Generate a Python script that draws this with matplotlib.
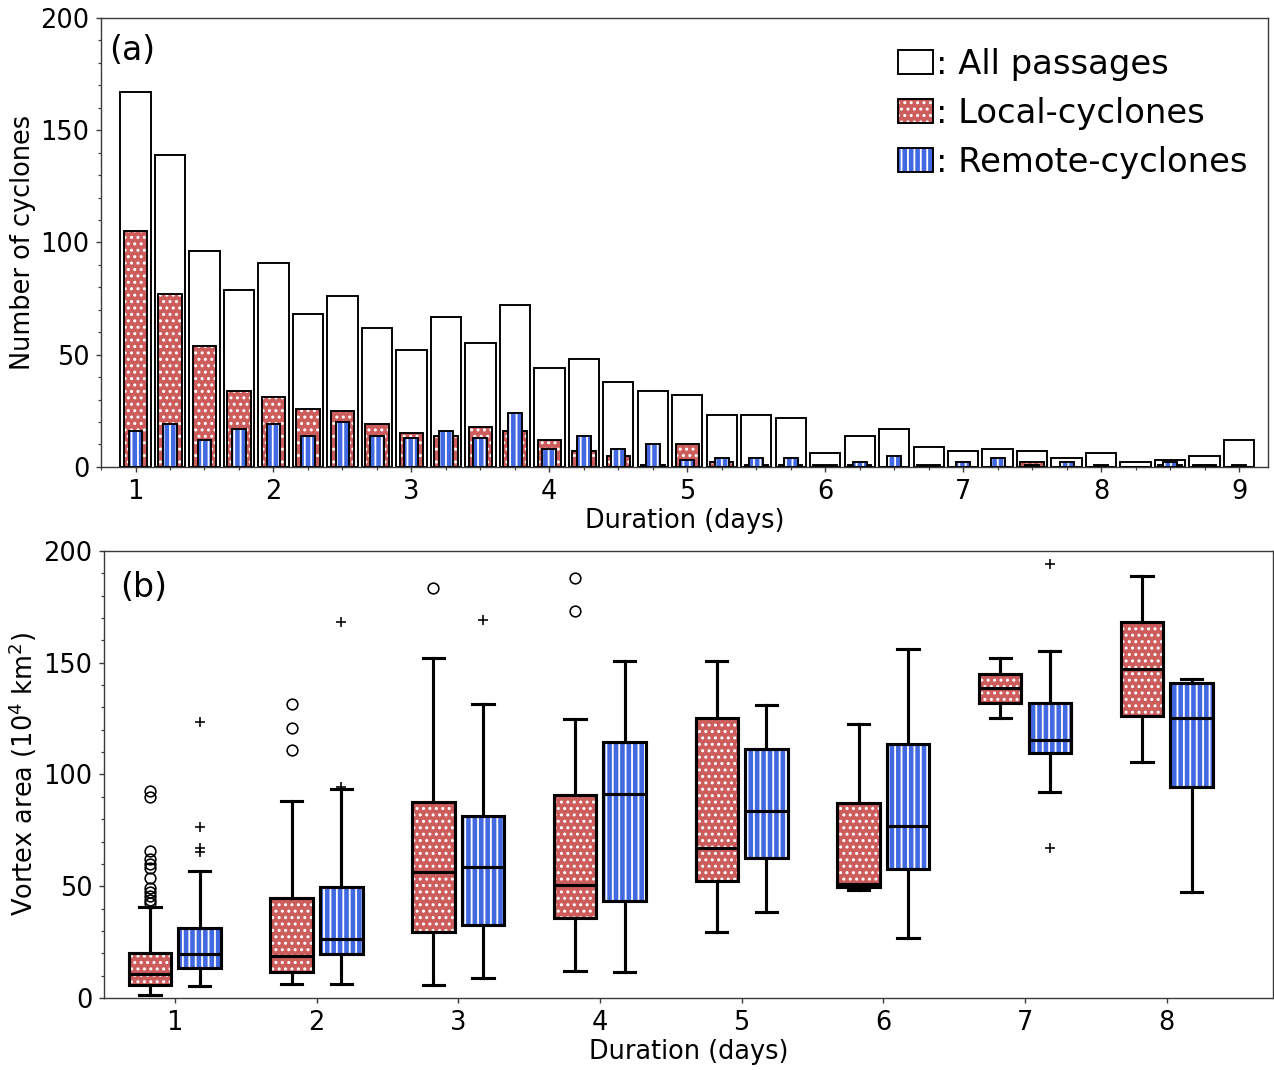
import numpy as np
import matplotlib
matplotlib.use("Agg")
import matplotlib.pyplot as plt
from matplotlib.patches import Patch, PathPatch
from matplotlib.legend_handler import HandlerTuple
from matplotlib.ticker import MultipleLocator

# ---------------- data: panel (a) ----------------
duration_days = [1.00, 1.25, 1.50, 1.75, 2.00, 2.25, 2.50, 2.75, 3.00, 3.25, 3.50,
                 3.75, 4.00, 4.25, 4.50, 4.75, 5.00, 5.25, 5.50, 5.75, 6.00, 6.25,
                 6.50, 6.75, 7.00, 7.25, 7.50, 7.75, 8.00, 8.25, 8.50, 8.75, 9.00]
all_passages = [167, 139, 96, 79, 91, 68, 76, 62, 52, 67, 55, 72, 44, 48, 38, 34, 32,
                23, 23, 22, 6, 14, 17, 9, 7, 8, 7, 4, 6, 2, 3, 5, 12]
local_cyclones = [105, 77, 54, 34, 31, 26, 25, 19, 15, 14, 18, 16, 12, 7, 5, 1, 10,
                  2, 1, 1, 1, 1, 0, 1, 0, 0, 2, 0, 0, 0, 1, 1, 0]
remote_cyclones = [16, 19, 12, 17, 19, 14, 20, 14, 13, 16, 13, 24, 8, 14, 8, 10, 3,
                   4, 4, 4, 0, 2, 5, 0, 2, 4, 1, 2, 1, 0, 2, 1, 1]

# ---------------- data: panel (b) box statistics ----------------
box_days = [1, 2, 3, 4, 5, 6, 7, 8]
local_whislo = [1.5, 6.4, 6.0, 12.1, 29.6, 48.5, 125.1, 105.4]
local_q1 = [5.7, 11.7, 29.6, 35.8, 52.4, 49.6, 131.8, 126.2]
local_med = [10.9, 18.7, 56.2, 50.5, 66.9, 51.2, 138.8, 147.2]
local_q3 = [20.2, 44.8, 87.5, 90.8, 125.1, 87.2, 145.1, 168.1]
local_whishi = [40.5, 88.1, 152.3, 124.8, 150.9, 122.6, 152.0, 188.8]
local_fliers = [[42.3, 43.8, 45.5, 47.5, 49.0, 53.9, 58.2, 60.0, 62.0, 65.7, 89.7, 92.7],
                [111.0, 120.9, 131.4],
                [183.3],
                [173.2, 187.8],
                [], [], [], []]

remote_whislo = [5.5, 6.4, 9.0, 11.7, 38.5, 26.9, 92.3, 47.5]
remote_q1 = [13.2, 19.7, 32.6, 43.4, 62.7, 57.5, 109.7, 94.2]
remote_med = [19.7, 26.6, 58.7, 91.2, 83.8, 76.9, 115.4, 125.1]
remote_q3 = [31.1, 49.7, 81.5, 114.6, 111.2, 113.6, 132.0, 140.8]
remote_whishi = [56.7, 93.5, 131.4, 150.8, 131.1, 156.0, 155.4, 142.9]
remote_fliers = [[65.4, 66.9, 76.6, 123.3],
                 [94.5, 168.2],
                 [169.3],
                 [], [], [],
                 [67.3, 194.2],
                 []]

RED = '#CD5C5C'
BLUE = '#4169E1'
DPI = 77

plt.rcParams['hatch.linewidth'] = 1.7
plt.rcParams['font.family'] = ['DejaVu Sans']

fig = plt.figure(figsize=(1274 / DPI, 1070 / DPI), dpi=DPI)
ax1 = fig.add_axes([0.0793, 0.5636, 0.916, 0.4196])
ax2 = fig.add_axes([0.0816, 0.0673, 0.9176, 0.4178])

SPINE = '#3a3a3a'
for ax in (ax1, ax2):
    for s in ax.spines.values():
        s.set_color(SPINE)
        s.set_linewidth(1.3)
    ax.tick_params(which='major', length=5, width=1.3, color=SPINE, pad=6,
                   labelsize=24)
    ax.tick_params(which='minor', length=3, width=1.1, color=SPINE)

# ---------------- panel (a) ----------------
x = np.array(duration_days)
EW = 1.8
ax1.bar(x, all_passages, width=0.22, facecolor='white', edgecolor='black',
        linewidth=EW, zorder=2)
ax1.bar(x, local_cyclones, width=0.17, facecolor=RED, edgecolor='white',
        linewidth=0, hatch='..', zorder=3)
ax1.bar(x, local_cyclones, width=0.17, fill=False, edgecolor='black',
        linewidth=EW, zorder=3.1)
ax1.bar(x, remote_cyclones, width=0.10, facecolor=BLUE, edgecolor='white',
        linewidth=0, hatch='||', zorder=4)
ax1.bar(x, remote_cyclones, width=0.10, fill=False, edgecolor='black',
        linewidth=EW, zorder=4.1)

ax1.set_xlim(0.75, 9.21)
ax1.set_ylim(0, 200)
ax1.set_xticks(range(1, 10))
ax1.xaxis.set_minor_locator(MultipleLocator(0.25))
ax1.set_yticks([0, 50, 100, 150, 200])
ax1.yaxis.set_minor_locator(MultipleLocator(10))
ax1.set_xlabel('Duration (days)', fontsize=24, labelpad=3)
ax1.set_ylabel('Number of cyclones', fontsize=24, labelpad=4)
ax1.text(0.007, 0.965, '(a)', transform=ax1.transAxes, fontsize=31,
         ha='left', va='top')

h_all = Patch(facecolor='white', edgecolor='black', linewidth=EW)
h_loc = (Patch(facecolor=RED, edgecolor='white', linewidth=0, hatch='..'),
         Patch(facecolor='none', edgecolor='black', linewidth=EW))
h_rem = (Patch(facecolor=BLUE, edgecolor='white', linewidth=0, hatch='||'),
         Patch(facecolor='none', edgecolor='black', linewidth=EW))
ax1.legend([h_all, h_loc, h_rem],
           [': All passages', ': Local-cyclones', ': Remote-cyclones'],
           loc='upper right', bbox_to_anchor=(1.0, 0.978), frameon=False,
           fontsize=31.5, handlelength=1.05, handleheight=0.72,
           handletextpad=0.1, borderpad=0.2, borderaxespad=0.4,
           labelspacing=0.47,
           handler_map={tuple: HandlerTuple(ndivide=1, pad=0)})

# ---------------- panel (b) ----------------
def make_stats(lo, q1, med, q3, hi, fl):
    return [dict(whislo=a, q1=b, med=c, q3=d, whishi=e, fliers=f)
            for a, b, c, d, e, f in zip(lo, q1, med, q3, hi, fl)]

stats_local = make_stats(local_whislo, local_q1, local_med, local_q3,
                         local_whishi, local_fliers)
stats_remote = make_stats(remote_whislo, remote_q1, remote_med, remote_q3,
                          remote_whishi, remote_fliers)

pos = np.array(box_days, dtype=float)
LW = 2.9
common = dict(widths=0.3, patch_artist=True, showfliers=True, manage_ticks=False,
              whiskerprops=dict(color='black', linewidth=LW),
              capprops=dict(color='black', linewidth=LW),
              medianprops=dict(color='black', linewidth=LW))

r1 = ax2.bxp(stats_local, positions=pos - 0.175,
             boxprops=dict(facecolor=RED, edgecolor='white', linewidth=0, hatch='..'),
             flierprops=dict(marker='o', markerfacecolor='none', markeredgecolor='black',
                             markersize=10, markeredgewidth=1.5, linestyle='none'),
             **common)
r2 = ax2.bxp(stats_remote, positions=pos + 0.175,
             boxprops=dict(facecolor=BLUE, edgecolor='white', linewidth=0, hatch='||'),
             flierprops=dict(marker='+', markerfacecolor='none', markeredgecolor='black',
                             markersize=10, markeredgewidth=1.5, linestyle='none'),
             **common)
for res in (r1, r2):
    for b in res['boxes']:
        ax2.add_patch(PathPatch(b.get_path(), facecolor='none', edgecolor='black',
                                linewidth=LW, zorder=2.05))

ax2.set_xlim(0.5, 8.75)
ax2.set_ylim(0, 200)
ax2.set_xticks(box_days)
ax2.set_xticklabels([str(d) for d in box_days])
ax2.set_yticks([0, 50, 100, 150, 200])
ax2.yaxis.set_minor_locator(MultipleLocator(10))
ax2.set_xlabel('Duration (days)', fontsize=24, labelpad=3)
ax2.set_ylabel('Vortex area (10$^4$ km$^2$)', fontsize=24, labelpad=4)
ax2.text(0.014, 0.955, '(b)', transform=ax2.transAxes, fontsize=31,
         ha='left', va='top')

fig.savefig('out.png', dpi=DPI)
